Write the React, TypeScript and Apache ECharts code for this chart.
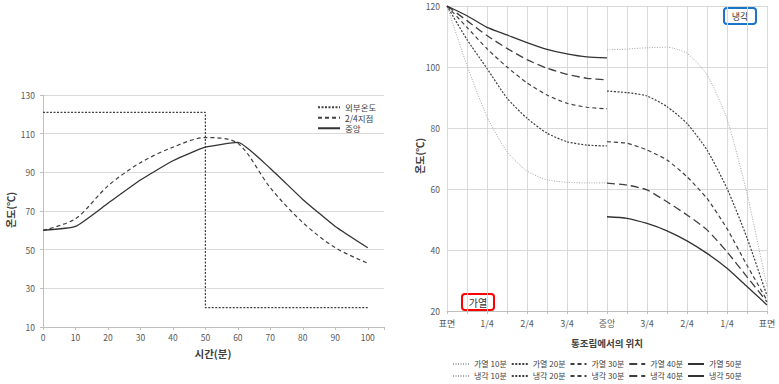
import React, { useEffect, useRef } from 'react';
import * as echarts from 'echarts';

const FONT = "'Noto Sans CJK KR', 'Noto Sans', sans-serif";

// ---- Left chart data ----
const timeMin = [0, 10, 20, 30, 40, 50, 60, 70, 80, 90, 100];
const outerTime = [0, 50, 50, 100];
const outerTemp = [121, 121, 20, 20];
const point24Temp = [60, 66, 83, 95, 103, 108, 105, 82, 64, 51, 43];
const centerTemp = [60, 62, 74, 86, 96, 103, 105.5, 92, 76, 62, 51];
const leftYTicks = [10, 30, 50, 70, 90, 110, 130];

// ---- Right chart data ----
const positions = ['표면', '', '1/4', '', '2/4', '', '3/4', '', '중앙', '', '3/4', '', '2/4', '', '1/4', '', '표면'];
const heat10 = [120, 100.5, 83.7, 72.2, 65.9, 63, 62.2, 62, 62];
const heat20 = [120, 109, 99.5, 89.8, 83.2, 78.3, 75.5, 74.4, 74.1];
const heat30 = [120, 113, 106, 100, 94.8, 90.8, 88.1, 86.8, 86.3];
const heat40 = [120, 115.2, 110.3, 106.1, 102.4, 99.6, 97.6, 96.3, 95.8];
const heat50 = [120, 116.8, 113, 110.5, 108, 105.8, 104.3, 103.3, 103];
const cool10 = [105.6, 105.9, 106.3, 106.5, 104.5, 97.5, 83, 58.5, 28];
const cool20 = [92.1, 91.6, 90.5, 87, 81.5, 72.8, 60.2, 44, 25];
const cool30 = [75.5, 75, 72.8, 69.5, 64, 56.9, 47, 35, 23.5];
const cool40 = [61.9, 61.3, 59.7, 55.8, 51.5, 46.6, 39.4, 31.2, 23];
const cool50 = [50.9, 50.4, 48.7, 46.3, 43, 38.9, 34, 28, 22];
const heatNames = ['가열 10분', '가열 20분', '가열 30분', '가열 40분', '가열 50분'];
const coolNames = ['냉각 10분', '냉각 20분', '냉각 30분', '냉각 40분', '냉각 50분'];

const LABEL = '#595959';
const GRID = '#d9d9d9';
const AXIS = '#bfbfbf';

const styles = [
  { color: '#a6a6a6', width: 1, type: [1, 1.5] as number[] },
  { color: '#404040', width: 1.2, type: [2, 1.5] as number[] },
  { color: '#404040', width: 1.2, type: [4, 3] as number[] },
  { color: '#404040', width: 1.3, type: [8, 4] as number[] },
  { color: '#333333', width: 1.3, type: 'solid' as any },
];

function buildOption() {
  const heatSets = [heat10, heat20, heat30, heat40, heat50];
  const coolSets = [cool10, cool20, cool30, cool40, cool50];
  const pad = new Array(8).fill(null);

  const rightSeries: any[] = [];
  heatSets.forEach((d, k) => {
    rightSeries.push({
      name: heatNames[k], type: 'line', xAxisIndex: 1, yAxisIndex: 1,
      data: d, symbol: 'none', smooth: 0.2,
      lineStyle: { ...styles[k] }, itemStyle: { color: styles[k].color },
    });
  });
  coolSets.forEach((d, k) => {
    rightSeries.push({
      name: coolNames[k], type: 'line', xAxisIndex: 1, yAxisIndex: 1,
      data: [...pad, ...d], symbol: 'none', smooth: 0.2,
      lineStyle: { ...styles[k] }, itemStyle: { color: styles[k].color },
    });
  });

  const hiddenSymbol = { opacity: 0 };

  return {
    animation: false,
    backgroundColor: '#fff',
    textStyle: { fontFamily: FONT },
    grid: [
      { left: 43, top: 95, width: 341, height: 232 },
      { left: 447, top: 6, width: 320, height: 305 },
    ],
    xAxis: [
      {
        type: 'value', gridIndex: 0, min: 0, max: 105, interval: 10,
        axisLine: { show: true, lineStyle: { color: AXIS } },
        axisTick: { show: true, length: 3, lineStyle: { color: AXIS } },
        splitLine: { show: false },
        axisLabel: {
          color: LABEL, fontSize: 8.5, margin: 6, fontFamily: FONT,
          formatter: (v: number) => (v % 10 === 0 && v <= 100 ? String(v) : ''),
        },
      },
      {
        type: 'category', gridIndex: 1, data: positions, boundaryGap: false,
        axisLine: { show: true, lineStyle: { color: AXIS } },
        axisTick: { show: true, interval: 0, length: 3, lineStyle: { color: AXIS } },
        splitLine: { show: true, interval: 0, lineStyle: { color: GRID } },
        axisLabel: { color: LABEL, fontSize: 9, margin: 8, interval: 0, fontFamily: FONT },
      },
    ],
    yAxis: [
      {
        type: 'value', gridIndex: 0, min: 10, max: 130,
        axisLine: { show: true, lineStyle: { color: AXIS } },
        axisTick: { show: true, length: 3, customValues: leftYTicks, lineStyle: { color: AXIS } },
        splitLine: { show: true, lineStyle: { color: GRID } },
        axisLabel: { color: LABEL, fontSize: 8.5, margin: 8, customValues: leftYTicks, fontFamily: FONT },
      },
      {
        type: 'value', gridIndex: 1, min: 20, max: 120, interval: 20,
        axisLine: { show: false },
        axisTick: { show: false },
        splitLine: { show: true, lineStyle: { color: GRID } },
        axisLabel: { color: LABEL, fontSize: 8.5, margin: 7, fontFamily: FONT },
      },
    ],
    legend: [
      {
        data: ['외부온도', '2/4지점', '중앙'],
        orient: 'vertical', left: 312, top: 98, itemGap: 2,
        itemWidth: 22, itemHeight: 8, itemStyle: hiddenSymbol,
        textStyle: { fontSize: 8.5, color: '#404040', fontFamily: FONT },
      },
      {
        data: heatNames, orient: 'horizontal', left: 447, top: 355, itemGap: 4,
        itemWidth: 16, itemHeight: 8, itemStyle: hiddenSymbol,
        textStyle: { fontSize: 8, color: '#404040', fontFamily: FONT },
      },
      {
        data: coolNames, orient: 'horizontal', left: 447, top: 367, itemGap: 4,
        itemWidth: 16, itemHeight: 8, itemStyle: hiddenSymbol,
        textStyle: { fontSize: 8, color: '#404040', fontFamily: FONT },
      },
    ],
    graphic: [
      { type: 'text', x: 10, y: 210, rotation: Math.PI / 2,
        style: { text: '온도(℃)', font: `bold 10px ${FONT}`, fill: '#404040', align: 'center', verticalAlign: 'middle' } },
      { type: 'text', x: 213, y: 353,
        style: { text: '시간(분)', font: `bold 10.5px ${FONT}`, fill: '#404040', align: 'center', verticalAlign: 'middle' } },
      { type: 'text', x: 419, y: 156, rotation: Math.PI / 2,
        style: { text: '온도(℃)', font: `bold 10px ${FONT}`, fill: '#404040', align: 'center', verticalAlign: 'middle' } },
      { type: 'text', x: 607, y: 343,
        style: { text: '통조림에서의 위치', font: `bold 9.5px ${FONT}`, fill: '#404040', align: 'center', verticalAlign: 'middle' } },
      { type: 'rect', shape: { x: 724, y: 8, width: 32, height: 16, r: 3 },
        style: { fill: '#fff', stroke: '#1a75c9', lineWidth: 2 } },
      { type: 'text', x: 740, y: 16,
        style: { text: '냉각', font: `9px ${FONT}`, fill: '#333', align: 'center', verticalAlign: 'middle' } },
      { type: 'rect', shape: { x: 462, y: 294, width: 32, height: 16, r: 3 },
        style: { fill: '#fff', stroke: '#ff0000', lineWidth: 2 } },
      { type: 'text', x: 478, y: 302,
        style: { text: '가열', font: `10px ${FONT}`, fill: '#333', align: 'center', verticalAlign: 'middle' } },
    ],
    series: [
      {
        name: '외부온도', type: 'line', xAxisIndex: 0, yAxisIndex: 0,
        data: outerTime.map((t, i) => [t, outerTemp[i]]), symbol: 'none',
        lineStyle: { color: '#404040', width: 1.2, type: [2, 1.5] }, itemStyle: { color: '#404040' },
      },
      {
        name: '2/4지점', type: 'line', xAxisIndex: 0, yAxisIndex: 0,
        data: timeMin.map((t, i) => [t, point24Temp[i]]), symbol: 'none', smooth: 0.3,
        lineStyle: { color: '#404040', width: 1.2, type: [4, 3] }, itemStyle: { color: '#404040' },
      },
      {
        name: '중앙', type: 'line', xAxisIndex: 0, yAxisIndex: 0,
        data: timeMin.map((t, i) => [t, centerTemp[i]]), symbol: 'none', smooth: 0.15,
        lineStyle: { color: '#333', width: 1.3 }, itemStyle: { color: '#333' },
      },
      ...rightSeries,
    ],
  };
}

export default function App() {
  const ref = useRef<HTMLDivElement>(null);
  useEffect(() => {
    if (!ref.current) return;
    const chart = echarts.init(ref.current, null, { renderer: 'svg' });
    chart.setOption(buildOption() as any);
    return () => chart.dispose();
  }, []);
  return (
    <div
      ref={ref}
      style={{ position: 'fixed', left: 0, top: 0, width: 779, height: 384, background: '#fff' }}
    />
  );
}
